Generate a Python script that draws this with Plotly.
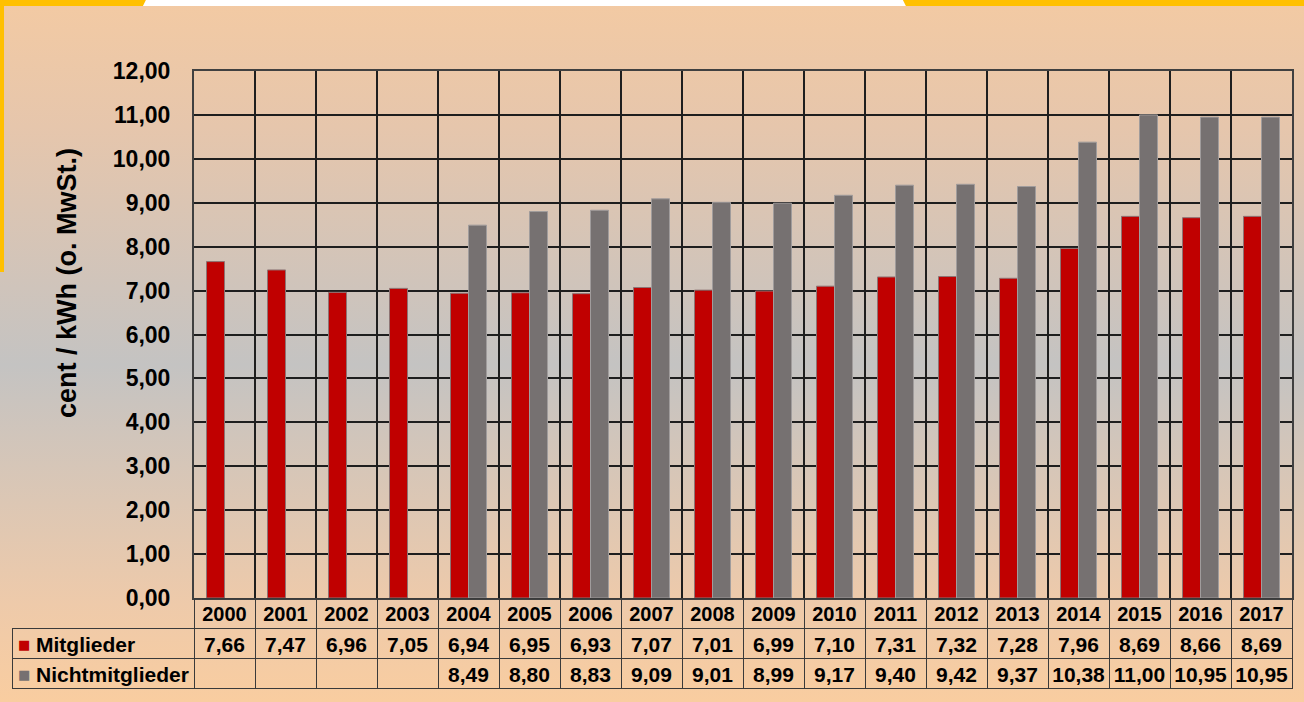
import plotly.graph_objects as go

years = [str(y) for y in range(2000, 2018)]
mitglieder = [7.66, 7.47, 6.96, 7.05, 6.94, 6.95, 6.93, 7.07, 7.01, 6.99,
              7.10, 7.31, 7.32, 7.28, 7.96, 8.69, 8.66, 8.69]
nichtmitglieder = [None, None, None, None, 8.49, 8.80, 8.83, 9.09, 9.01, 8.99,
                   9.17, 9.40, 9.42, 9.37, 10.38, 11.00, 10.95, 10.95]
series = ['Mitglieder', 'Nichtmitglieder']

RED = '#C00000'
GREY = '#767171'
FONT = 'Liberation Sans, Arial, sans-serif'
W, H = 1304, 702


def fmt(v):
    return '' if v is None else f"{v:.2f}".replace('.', ',')


fig = go.Figure()

# background gradient (peach -> grey -> peach), drawn on a hidden full-page subplot
fig.add_trace(go.Scatter(
    x=[0, 1, 1, 0, 0], y=[0, 0, 1, 1, 0], mode='lines', fill='toself',
    line=dict(width=0), hoverinfo='skip', showlegend=False,
    fillgradient=dict(type='vertical', colorscale=[
        [0, '#F9CDA0'], [0.14, '#EECAAA'], [0.48, '#C4C3C2'],
        [0.82, '#E6C6AC'], [1, '#F3CAA3']]),
    xaxis='x', yaxis='y'))

fig.add_trace(go.Bar(x=years, y=mitglieder, name=series[0], marker=dict(
    color=RED, line=dict(color='#8E7474', width=1)), xaxis='x2', yaxis='y2'))
fig.add_trace(go.Bar(x=years, y=nichtmitglieder, name=series[1], marker=dict(
    color=GREY, line=dict(color='#A09C9C', width=1)), xaxis='x2', yaxis='y2'))

# data table under the chart (series names are added as annotations below)
cell_vals = [['', '']] + [[fmt(m), fmt(n)] for m, n in zip(mitglieder, nichtmitglieder)]
hdr_line = ['rgba(0,0,0,0)'] + ['#3A3A3A'] * len(years)

fig.add_trace(go.Table(
    domain=dict(x=[12 / W, 1292 / W], y=[1 - 690 / H, 1 - 598 / H]),
    columnwidth=[182] + [61] * len(years),
    header=dict(values=[''] + years, height=30, align='center',
                line=dict(color=hdr_line, width=1),
                fill=dict(color='rgba(0,0,0,0)'),
                font=dict(family=FONT, size=20, color='black', weight='bold')),
    cells=dict(values=cell_vals, height=30, align='center',
               line=dict(color='#3A3A3A', width=1),
               fill=dict(color='rgba(0,0,0,0)'),
               font=dict(family=FONT, size=21, color='black', weight='bold'))))

fig.update_layout(
    width=W, height=H, margin=dict(l=0, r=0, t=0, b=0, pad=0, autoexpand=False),
    paper_bgcolor='#F4CBA4', plot_bgcolor='rgba(0,0,0,0)',
    separators=',.', showlegend=False, barmode='group', bargap=0.41, bargroupgap=0,
    font=dict(family=FONT, color='black'),
    xaxis=dict(domain=[0, 1], range=[0, 1], visible=False, fixedrange=True),
    yaxis=dict(domain=[0, 1], range=[0, 1], visible=False, fixedrange=True),
    xaxis2=dict(domain=[194 / W, 1292 / W], type='category', tickson='boundaries',
                showgrid=True, gridcolor='#1E1E1E', gridwidth=1.5,
                showticklabels=False, ticks='', showline=True, linecolor='#404040',
                linewidth=2, mirror=True, anchor='y2'),
    yaxis2=dict(domain=[1 - 598 / H, 1 - 71 / H], range=[0, 12], dtick=1,
                tickformat='.2f', showgrid=True, gridcolor='#1E1E1E', gridwidth=1.5,
                zeroline=False, showline=True, linecolor='#404040', linewidth=2,
                mirror=True, ticks='', ticklabelstandoff=17,
                tickfont=dict(family=FONT, size=23, color='black', weight='bold'),
                anchor='x2'),
)

# plot area fill
fig.add_shape(type='rect', xref='x2 domain', yref='y2 domain', x0=0, x1=1, y0=0, y1=1,
              fillcolor='#C0C0C0', line=dict(width=0), layer='below')

# legend keys and series names in the first table column
for name, color, yc in zip(series, [RED, GREY], [644, 674]):
    fig.add_annotation(text='■', xref='paper', yref='paper', x=24 / W, y=1 - yc / H,
                       xanchor='center', yanchor='middle', showarrow=False,
                       font=dict(family='DejaVu Sans', size=13, color=color))
    fig.add_annotation(text=name, xref='paper', yref='paper', x=34 / W, y=1 - yc / H,
                       xanchor='left', yanchor='middle', showarrow=False,
                       font=dict(family=FONT, size=21, color='black', weight='bold'))

# slide decoration along the top edge
top = 1 - 6 / H
fig.add_shape(type='path', xref='paper', yref='paper', layer='above',
              path=f"M 0 1 L {146 / W} 1 L {143 / W} {top} L {4 / W} {top} L {4 / W} {1 - 272 / H} L 0 {1 - 272 / H} Z",
              fillcolor='#FFC000', line=dict(width=0))
fig.add_shape(type='path', xref='paper', yref='paper', layer='above',
              path=f"M {146 / W} 1 L {903 / W} 1 L {906 / W} {top} L {143 / W} {top} Z",
              fillcolor='white', line=dict(width=0))
fig.add_shape(type='path', xref='paper', yref='paper', layer='above',
              path=f"M {903 / W} 1 L 1 1 L 1 {top} L {906 / W} {top} Z",
              fillcolor='#FFC000', line=dict(width=0))

fig.add_annotation(text='cent / kWh (o. MwSt.)', xref='paper', yref='paper',
                   x=67 / W, y=1 - 283 / H, xanchor='center', yanchor='middle',
                   textangle=-90, showarrow=False,
                   font=dict(family=FONT, size=27, color='black', weight='bold'))

fig.write_html("out.html", config={'displayModeBar': False},
               post_script="document.body.style.margin='0';")
